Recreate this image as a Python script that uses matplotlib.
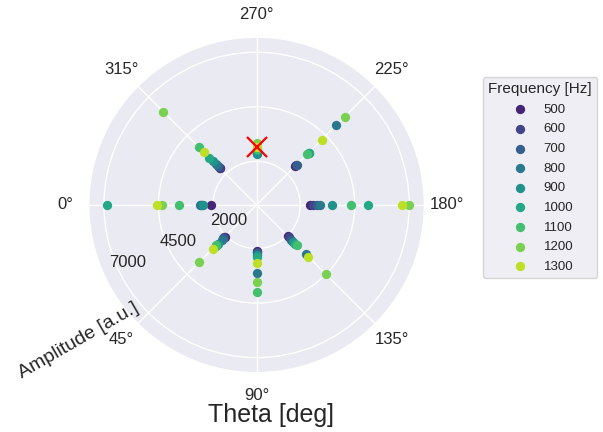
import numpy as np
import matplotlib
matplotlib.use('Agg')
import matplotlib.pyplot as plt
import matplotlib.transforms as mtransforms
import seaborn as sns

# measurement angles (deg) and excitation frequencies (Hz)
angles = [0, 45, 90, 135, 180, 225, 270, 315]
freqs = [500, 600, 700, 800, 900, 1000, 1100, 1200, 1300]

# amplitude per frequency, one value per angle (a.u.)
amp_500 = [2110, 2060, 2110, 2020, 2430, 2520, 2380, 2380]
amp_600 = [2520, 2110, 2150, 2110, 2570, 2570, 2380, 2380]
amp_700 = [2570, 2150, 2200, 2250, 2750, 2610, 2430, 2520]
amp_800 = [2610, 2250, 3120, 3210, 2890, 5180, 2470, 2660]
amp_900 = [2470, 2520, 2290, 2380, 3480, 3390, 2340, 2840]
amp_1000 = [6870, 2660, 2380, 2520, 5130, 3390, 2520, 3070]
amp_1100 = [3570, 2610, 3990, 2610, 4350, 3300, 2570, 3760]
amp_1200 = [4350, 3710, 3530, 4490, 7010, 5730, 2840, 6050]
amp_1300 = [4580, 2840, 2660, 3350, 6650, 4220, 2660, 3440]
amps = [amp_500, amp_600, amp_700, amp_800, amp_900,
        amp_1000, amp_1100, amp_1200, amp_1300]

# marked point
mark_angle = 270
mark_amp = 2660

rticks = [2000, 4500, 7000]

sns.set_theme(style='darkgrid')
plt.rcParams['font.family'] = ['Liberation Sans', 'DejaVu Sans']

colors = sns.color_palette('viridis', len(freqs))

fig = plt.figure(figsize=(6.03, 4.32), dpi=100)
ax = fig.add_axes([0.147, 0.1366, 0.557, 0.778], projection='polar')
ax.set_theta_zero_location('W')
ax.set_theta_direction(1)

theta = np.deg2rad(angles)
for f, a, c in zip(freqs, amps, colors):
    ax.scatter(theta, a, s=45, color=c, label=str(f), linewidths=0, zorder=3)

ax.plot(np.deg2rad(mark_angle), mark_amp, marker='x', color='red',
        markersize=14, markeredgewidth=1.6, linestyle='none', zorder=4)

ax.set_thetagrids(range(0, 360, 45))
ax.set_rlim(0, 7700)
ax.set_rticks(rticks)
ax.tick_params(labelsize=12)

# nudge the radial labels a little down-left
shift = mtransforms.ScaledTranslation(-0.06, -0.065, fig.dpi_scale_trans)
for lbl in ax.get_yticklabels():
    lbl.set_transform(lbl.get_transform() + shift)

ax.set_xlabel('Theta [deg]', fontsize=18)
ax.xaxis.set_label_coords(0.544, -0.09)
fig.text(0.131, 0.211, 'Amplitude [a.u.]', fontsize=14, rotation=30,
         ha='center', va='center', rotation_mode='anchor')

leg = ax.legend(title='Frequency [Hz]', loc='upper left',
                bbox_to_anchor=(0.801, 0.822), bbox_transform=fig.transFigure,
                borderaxespad=0, fontsize=9.5, title_fontsize=11,
                labelspacing=0.56, frameon=True)

fig.savefig('out.png', dpi=100)
